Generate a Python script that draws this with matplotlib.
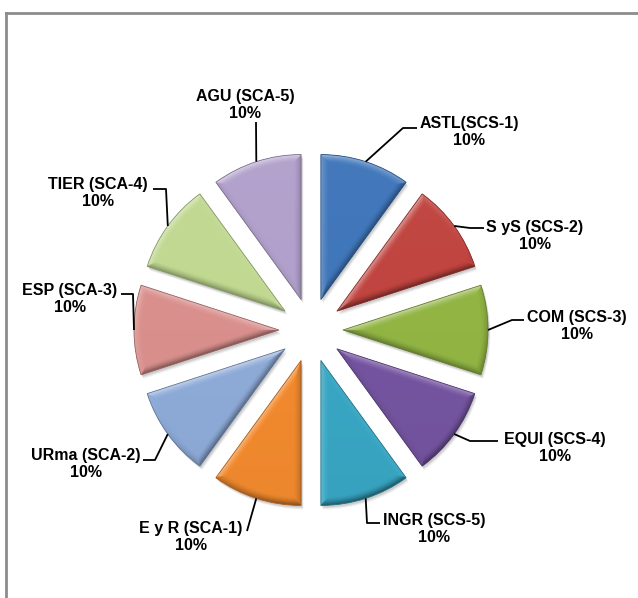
import numpy as np
import matplotlib
matplotlib.use("Agg")
import matplotlib.pyplot as plt
from matplotlib.colors import to_rgb
from matplotlib.patches import Wedge
from matplotlib.lines import Line2D

# ---- data ----
categories = ["ASTL(SCS-1)", "S yS (SCS-2)", "COM (SCS-3)", "EQUI (SCS-4)", "INGR (SCS-5)",
              "E y R (SCA-1)", "URma (SCA-2)", "ESP (SCA-3)", "TIER (SCA-4)", "AGU (SCA-5)"]
values = [10, 10, 10, 10, 10, 10, 10, 10, 10, 10]
colors = ["#3F76BA", "#C0443F", "#91B443", "#7454A0", "#38A6C3",
          "#F28A2E", "#8EABD8", "#D9908D", "#C0D890", "#B1A0CB"]

# ---- layout (pixel units, y measured from the top) ----
W, H = 638, 598
CX, CY = 311, 330
RADIUS = 145
EXPLODE = 32
# label block centre and the leader-line bend points (from slice side to text side)
label_pos = [(469, 132), (535, 236), (577, 326), (555, 448), (434, 529),
             (191, 537), (86, 464), (70, 299), (98, 193), (245, 105)]
leader_bends = [
    [(403, 128), (417, 128)],
    [(470, 228), (484, 228)],
    [(512, 320), (524, 320)],
    [(470, 441), (498, 441)],
    [(367, 523), (380, 523)],
    [(247, 531)],
    [(155, 460), (143, 460)],
    [(133, 294), (121, 294)],
    [(166, 189), (153, 189)],
    [(256, 122)],
]

fig = plt.figure(figsize=(W / 100, H / 100), dpi=100)
ax = fig.add_axes([0, 0, 1, 1])

wedges, _ = ax.pie(values, radius=RADIUS, center=(CX, H - CY),
                   explode=[EXPLODE] * len(values),
                   startangle=90, counterclock=False, colors=colors,
                   wedgeprops=dict(linewidth=0))
ax.set_xlim(0, W)
ax.set_ylim(0, H)
ax.set_aspect("equal")
ax.axis("off")

light = np.array([-0.45, 0.9])
light = light / np.linalg.norm(light)


def bevel_image(w, base):
    """Soft bevel shading for one wedge, returned as an RGBA image + extent."""
    x0, y0 = w.center
    r = w.r
    t1, t2 = np.radians(w.theta1), np.radians(w.theta2)
    ext = w.get_path().get_extents()
    xs = np.arange(ext.x0 - 2, ext.x1 + 2, 0.5)
    ys = np.arange(ext.y0 - 2, ext.y1 + 2, 0.5)
    X, Y = np.meshgrid(xs, ys)
    rx, ry = X - x0, Y - y0
    rho = np.hypot(rx, ry) + 1e-9
    # distances to the three borders (positive inside)
    d_arc = r - rho
    u1 = np.array([np.cos(t1), np.sin(t1)])
    u2 = np.array([np.cos(t2), np.sin(t2)])
    d1 = u1[0] * ry - u1[1] * rx
    d2 = u2[1] * rx - u2[0] * ry
    n_arc = np.stack([rx / rho, ry / rho])
    n1 = np.array([np.sin(t1), -np.cos(t1)])[:, None, None] * np.ones_like(X)
    n2 = np.array([-np.sin(t2), np.cos(t2)])[:, None, None] * np.ones_like(X)
    D = np.stack([d_arc, d1, d2])
    idx = np.argmin(D, axis=0)
    d = np.take_along_axis(D, idx[None], axis=0)[0]
    N = np.stack([n_arc, n1, n2])  # (3, 2, h, w)
    nx = np.take_along_axis(N[:, 0], idx[None], axis=0)[0]
    ny = np.take_along_axis(N[:, 1], idx[None], axis=0)[0]
    bw = 8.0
    t = np.clip(1 - d / bw, 0, 1) ** 1.6
    s = (nx * light[0] + ny * light[1]) * t
    # gentle body gradient: a little darker toward the lower side
    body = -0.10 * (0.5 - (Y - (y0 - r)) / (2 * r))
    s = s + body
    rgb = np.array(to_rgb(base))[None, None, :] * np.ones(X.shape + (3,))
    up = np.clip(s, 0, 1)[..., None] * 0.5
    dn = np.clip(-s, 0, 1)[..., None] * 0.45
    rgb = rgb * (1 - up) + up
    rgb = rgb * (1 - dn)
    rgba = np.concatenate([rgb, np.ones(X.shape + (1,))], axis=2)
    return rgba, [xs[0], xs[-1], ys[0], ys[-1]]


for w, col in zip(wedges, colors):
    # soft drop shadow
    for k, a in [(4.0, 0.05), (3.0, 0.07), (2.0, 0.09)]:
        sh = Wedge((w.center[0] + k * 0.6, w.center[1] - k), w.r, w.theta1, w.theta2,
                   facecolor="black", alpha=a, linewidth=0, zorder=0.5)
        ax.add_patch(sh)
    img, extent = bevel_image(w, col)
    im = ax.imshow(img, extent=extent, origin="lower", interpolation="bilinear",
                   zorder=1.5)
    im.set_clip_path(w)
    dark = np.array(to_rgb(col)) * 0.7
    outline = Wedge(w.center, w.r, w.theta1, w.theta2, facecolor="none",
                    edgecolor=dark, linewidth=0.6, zorder=1.6)
    ax.add_patch(outline)

total = sum(values)
for w, name, v, (lx, ly), bends in zip(wedges, categories, values, label_pos, leader_bends):
    mid = np.radians((w.theta1 + w.theta2) / 2)
    ax_pt = (w.center[0] + w.r * np.cos(mid), w.center[1] + w.r * np.sin(mid))
    pts = [ax_pt] + [(bx, H - by) for bx, by in bends]
    ax.plot([p[0] for p in pts], [p[1] for p in pts], color="black", lw=1.3,
            solid_capstyle="butt", zorder=3)
    ax.text(lx, H - ly, f"{name}\n{v / total * 100:.0f}%", ha="center", va="center",
            multialignment="center", fontsize=11.5, fontweight="bold",
            family="Liberation Sans", linespacing=1.1, color="black", zorder=4)

# chart frame (top and left edges)
border = "#8c8c8c"
fig.add_artist(Line2D([6 / W, 1], [1 - 13 / H, 1 - 13 / H], color=border, lw=2,
                      transform=fig.transFigure))
fig.add_artist(Line2D([6 / W, 6 / W], [0, 1 - 13 / H], color=border, lw=2,
                      transform=fig.transFigure))

fig.savefig("out.png", dpi=100, facecolor="white")
